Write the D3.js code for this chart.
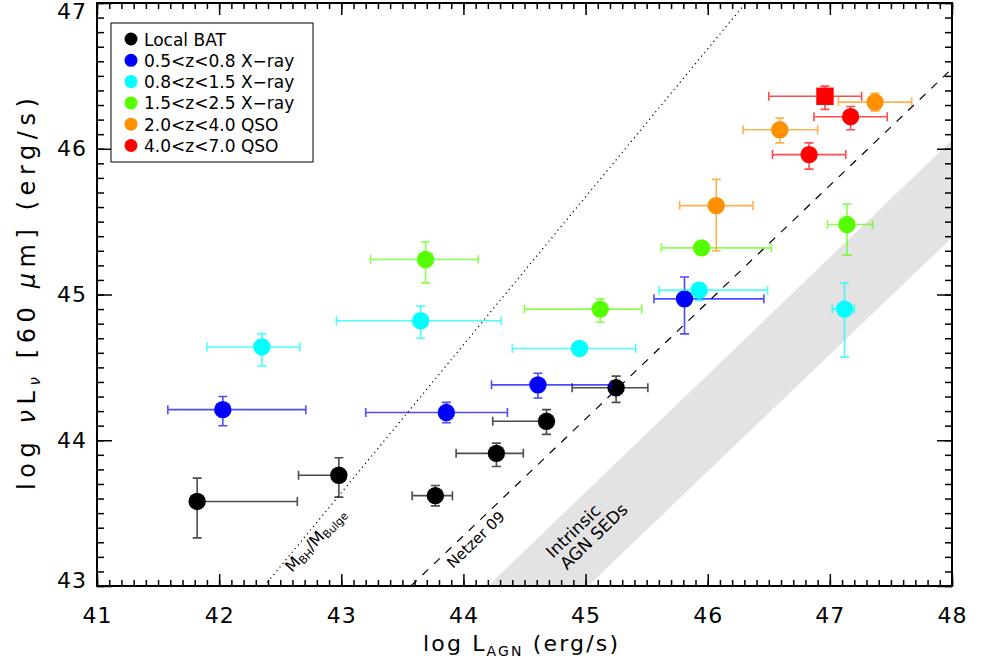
<!DOCTYPE html>
<html lang="en">
<head>
    <meta charset="UTF-8">
    <title>Far-IR vs AGN luminosity</title>
    <style>
        body { margin: 0; background: #fff; }
        text { font-family: "DejaVu Sans", sans-serif; fill: #000; }
        .tick text { font-size: 22px; letter-spacing: 1px; }
        .errbar { fill: none; stroke-width: 1.6; stroke-opacity: 0.7; }
    </style>
    <script src="https://d3js.org/d3.v7.min.js"></script>
</head>
<body>
    <script>
        // each row: log L_AGN, log nuL_nu(60um), x err low, x err high, y err low, y err high
        const localBAT = [
            [41.82, 43.58, 0, 0.82, 0.25, 0.16],
            [42.98, 43.76, 0.33, 0, 0.15, 0.12],
            [43.77, 43.62, 0.19, 0.14, 0.07, 0.07],
            [44.27, 43.91, 0.33, 0.22, 0.09, 0.07],
            [44.68, 44.13, 0.44, 0, 0.09, 0.08],
            [45.25, 44.36, 0.36, 0.26, 0.10, 0.08]
        ];
        const xray05 = [
            [42.03, 44.21, 0.45, 0.68, 0.11, 0.09],
            [43.86, 44.19, 0.66, 0.50, 0.07, 0.07],
            [44.61, 44.38, 0.38, 0.60, 0.09, 0.08],
            [45.81, 44.97, 0.25, 0.65, 0.24, 0.15]
        ];
        const xray08 = [
            [42.35, 44.64, 0.45, 0.31, 0.13, 0.09],
            [43.65, 44.82, 0.69, 0.66, 0.12, 0.10],
            [44.95, 44.63, 0.55, 0.46, 0.02, 0.02],
            [45.93, 45.03, 0.33, 0.56, 0.07, 0.05],
            [47.12, 44.90, 0.10, 0.08, 0.33, 0.18]
        ];
        const xray15 = [
            [43.69, 45.24, 0.45, 0.43, 0.16, 0.12],
            [45.12, 44.90, 0.62, 0.34, 0.09, 0.07],
            [45.95, 45.32, 0.33, 0.57, 0, 0],
            [47.14, 45.48, 0.16, 0.21, 0.21, 0.14]
        ];
        const qso2 = [
            [46.07, 45.61, 0.30, 0.30, 0.31, 0.18],
            [46.59, 46.13, 0.30, 0.31, 0.09, 0.08],
            [47.37, 46.32, 0.30, 0.30, 0.06, 0.06]
        ];
        const qso4 = [
            [46.83, 45.96, 0.30, 0.30, 0.10, 0.08],
            [47.17, 46.22, 0.30, 0.30, 0.09, 0.07]
        ];
        const qso4square = [
            [46.96, 46.36, 0.46, 0.30, 0.09, 0.07]
        ];

        const seriesNames = ["Local BAT", "0.5<z<0.8 X\u2212ray", "0.8<z<1.5 X\u2212ray",
            "1.5<z<2.5 X\u2212ray", "2.0<z<4.0 QSO", "4.0<z<7.0 QSO"];
        const seriesColors = ["#000000", "#0000ff", "#00ffff", "#55ff00", "#ff9000", "#ff0000"];
        const seriesData = [localBAT, xray05, xray08, xray15, qso2, qso4];

        // relations
        const mbhLine = [[42.37, 43], [46.31, 47]];
        const netzerLine = [[43.57, 43], [48, 46.55]];
        const sedBand = [[44.20, 43], [48, 46.06], [48, 45.39], [45.02, 43]];

        const xTicks = [41, 42, 43, 44, 45, 46, 47, 48];
        const yTicks = [43, 44, 45, 46, 47];

        const W = 983, H = 669;
        const L = 97, R = 952, T = 3, B = 586;

        const svg = d3.select("body").append("svg")
            .attr("width", W).attr("height", H);

        const x = d3.scaleLinear().domain([41, 48]).range([L, R]);
        const y = d3.scaleLinear().domain([43, 47]).range([B, T]);

        svg.append("clipPath").attr("id", "plot")
            .append("rect").attr("x", L).attr("y", T).attr("width", R - L).attr("height", B - T);

        const plot = svg.append("g").attr("clip-path", "url(#plot)");

        plot.append("path")
            .datum(sedBand)
            .attr("d", d3.line().x(d => x(d[0])).y(d => y(d[1])))
            .attr("fill", "#e3e3e3");

        const line = d3.line().x(d => x(d[0])).y(d => y(d[1]));
        plot.append("path").datum(mbhLine).attr("d", line)
            .attr("stroke", "#000").attr("stroke-width", 1.2)
            .attr("stroke-dasharray", "1.2,3.6").attr("fill", "none");
        plot.append("path").datum(netzerLine).attr("d", line)
            .attr("stroke", "#000").attr("stroke-width", 1.2)
            .attr("stroke-dasharray", "8,8").attr("fill", "none");

        // annotations
        const mbh = svg.append("text")
            .attr("transform", "translate(292,573) rotate(-47)")
            .style("font-size", "16px");
        mbh.append("tspan").text("M");
        mbh.append("tspan").attr("dy", 3).style("font-size", "11px").text("BH");
        mbh.append("tspan").attr("dy", -3).text("/M");
        mbh.append("tspan").attr("dy", 3).style("font-size", "11px").text("Bulge");

        svg.append("text")
            .attr("transform", "translate(453,569) rotate(-44)")
            .style("font-size", "15px")
            .text("Netzer 09");

        const sedLabel = svg.append("g")
            .attr("transform", "translate(553,559) rotate(-44)");
        sedLabel.append("text").style("font-size", "17px").text("Intrinsic");
        sedLabel.append("text").attr("x", 2).attr("y", 18).style("font-size", "17px").text("AGN SEDs");

        // error bars and points
        const cap = 4.5;
        function drawSeries(data, color, square) {
            const g = plot.append("g");
            const eb = g.selectAll(".eb").data(data).enter().append("g")
                .attr("class", "errbar").attr("stroke", color);
            eb.filter(d => d[2] > 0).append("path")
                .attr("d", d => `M${x(d[0] - d[2])},${y(d[1])}H${x(d[0])}M${x(d[0] - d[2])},${y(d[1]) - cap}V${y(d[1]) + cap}`);
            eb.filter(d => d[3] > 0).append("path")
                .attr("d", d => `M${x(d[0])},${y(d[1])}H${x(d[0] + d[3])}M${x(d[0] + d[3])},${y(d[1]) - cap}V${y(d[1]) + cap}`);
            eb.filter(d => d[4] > 0).append("path")
                .attr("d", d => `M${x(d[0])},${y(d[1])}V${y(d[1] - d[4])}M${x(d[0]) - cap},${y(d[1] - d[4])}H${x(d[0]) + cap}`);
            eb.filter(d => d[5] > 0).append("path")
                .attr("d", d => `M${x(d[0])},${y(d[1])}V${y(d[1] + d[5])}M${x(d[0]) - cap},${y(d[1] + d[5])}H${x(d[0]) + cap}`);
            if (square) {
                g.selectAll(".pt").data(data).enter().append("rect")
                    .attr("x", d => x(d[0]) - 8.7).attr("y", d => y(d[1]) - 8.7)
                    .attr("width", 17.4).attr("height", 17.4).attr("fill", color);
            } else {
                g.selectAll(".pt").data(data).enter().append("circle")
                    .attr("cx", d => x(d[0])).attr("cy", d => y(d[1]))
                    .attr("r", 8.7).attr("fill", color);
            }
        }
        seriesData.forEach((d, i) => drawSeries(d, seriesColors[i], false));
        drawSeries(qso4square, seriesColors[5], true);

        // axes with inward ticks
        function axis(gen, tx, ty, vals, size, labels) {
            const a = svg.append("g").attr("transform", `translate(${tx},${ty})`)
                .call(gen.tickValues(vals).tickSizeInner(-size).tickSizeOuter(0)
                    .tickFormat(labels ? d3.format("d") : ""));
            a.select(".domain").remove();
            a.selectAll(".tick line").attr("stroke", "#000").attr("stroke-width", 1.5);
            return a;
        }
        const xMinor = d3.range(410, 481).map(v => v / 10);
        const yMinor = d3.range(430, 471).map(v => v / 10);

        axis(d3.axisBottom(x).tickPadding(21), 0, B, xTicks, 12, true);
        axis(d3.axisBottom(x), 0, B, xMinor, 6, false);
        axis(d3.axisTop(x), 0, T, xTicks, 12, false);
        axis(d3.axisTop(x), 0, T, xMinor, 6, false);
        const yAx = axis(d3.axisLeft(y).tickPadding(10), L, 0, yTicks, 15, true);
        axis(d3.axisLeft(y), L, 0, yMinor, 7, false);
        axis(d3.axisRight(y), R, 0, yTicks, 15, false);
        axis(d3.axisRight(y), R, 0, yMinor, 7, false);

        // end labels are kept inside the frame
        yAx.selectAll(".tick text")
            .attr("y", d => d === 47 ? 8 : d === 43 ? -6 : 0);

        svg.selectAll(".tick text").attr("fill", "#000").style("font-family", "DejaVu Sans");

        svg.append("rect")
            .attr("x", L).attr("y", T).attr("width", R - L).attr("height", B - T)
            .attr("fill", "none").attr("stroke", "#000").attr("stroke-width", 2);

        // axis titles
        const xt = svg.append("text")
            .attr("x", 423).attr("y", 651)
            .attr("textLength", 195).attr("lengthAdjust", "spacing")
            .style("font-size", "22px");
        xt.append("tspan").text("log L");
        xt.append("tspan").attr("dy", 5).style("font-size", "14px").text("AGN");
        xt.append("tspan").attr("dy", -5).text(" (erg/s)");

        const yt = svg.append("text")
            .attr("transform", "translate(35,490) rotate(-90)")
            .attr("textLength", 392).attr("lengthAdjust", "spacing")
            .style("font-size", "24px");
        yt.append("tspan").text("log ");
        yt.append("tspan").style("font-style", "italic").text("\u03bd");
        yt.append("tspan").text("L");
        yt.append("tspan").attr("dy", 5).style("font-size", "15px").style("font-style", "italic").text("\u03bd");
        yt.append("tspan").attr("dy", -5).text(" [60 ");
        yt.append("tspan").style("font-style", "italic").text("\u03bc");
        yt.append("tspan").text("m] (erg/s)");

        // legend
        const lg = svg.append("g");
        lg.append("rect")
            .attr("x", 111).attr("y", 23).attr("width", 202).attr("height", 139)
            .attr("fill", "#fff").attr("stroke", "#000").attr("stroke-width", 1);
        const rows = lg.selectAll(".row").data(seriesNames).enter().append("g")
            .attr("transform", (d, i) => `translate(131,${39 + i * 21.3})`);
        rows.append("circle").attr("r", 6.5).attr("fill", (d, i) => seriesColors[i]);
        rows.append("text").attr("x", 13).attr("y", 6.5)
            .style("font-size", "17px").text(d => d);
    </script>
</body>
</html>
